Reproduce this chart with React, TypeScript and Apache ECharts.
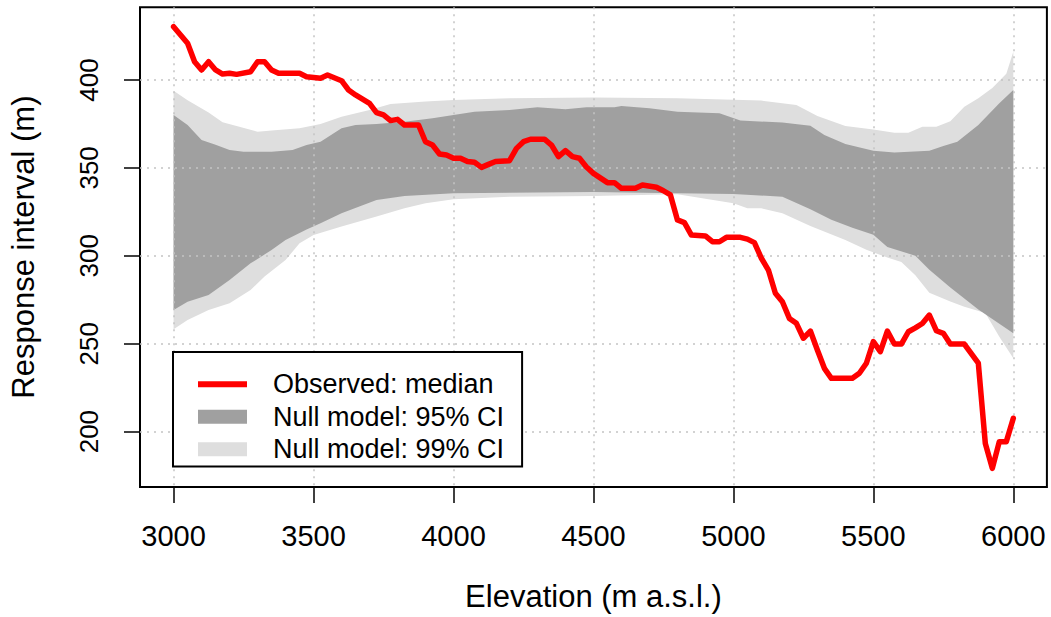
import React, { useEffect, useRef } from 'react';
import * as echarts from 'echarts';

// ---- data ----
const xTickValues = [3000, 3500, 4000, 4500, 5000, 5500, 6000];
const yTickValues = [200, 250, 300, 350, 400];

const observedMedian: [number, number][] = [
  [3000, 430.3], [3050, 420.9], [3075, 410.4], [3100, 405.7], [3125, 410.4], [3150, 405.7],
  [3175, 403.4], [3200, 403.8], [3225, 403.2], [3275, 404.7], [3300, 410.4], [3325, 410.4],
  [3350, 405.7], [3375, 403.8], [3450, 403.8], [3475, 401.9], [3525, 401.0], [3550, 402.8],
  [3600, 399.6], [3625, 394.3], [3650, 391.5], [3700, 386.7], [3725, 381.4], [3750, 380.1],
  [3775, 376.9], [3800, 377.6], [3825, 374.4], [3875, 374.4], [3900, 364.9], [3925, 363.0],
  [3950, 357.9], [3975, 357.3], [4000, 355.5], [4025, 355.5], [4050, 353.6], [4075, 353.2],
  [4100, 350.3], [4125, 352.0], [4150, 353.6], [4200, 354.1], [4225, 361.1], [4250, 364.9],
  [4275, 366.3], [4325, 366.3], [4350, 363.0], [4375, 356.4], [4400, 359.8], [4425, 356.4],
  [4450, 355.5], [4475, 350.5], [4500, 346.9], [4550, 341.6], [4575, 341.6], [4600, 338.4],
  [4650, 338.4], [4675, 340.3], [4725, 339.0], [4750, 337.0], [4775, 334.6], [4800, 320.4],
  [4825, 318.9], [4850, 311.8], [4900, 311.3], [4925, 308.0], [4950, 308.0], [4975, 310.5],
  [5025, 310.5], [5050, 309.5], [5075, 307.5], [5100, 298.6], [5125, 291.9], [5150, 278.7],
  [5175, 273.9], [5200, 264.4], [5225, 261.6], [5250, 253.1], [5275, 257.2], [5300, 246.4],
  [5325, 236.0], [5350, 230.3], [5400, 230.3], [5425, 230.3], [5450, 233.2], [5475, 238.9],
  [5500, 251.2], [5525, 245.5], [5550, 257.2], [5575, 249.8], [5600, 249.8], [5625, 256.8],
  [5650, 259.0], [5675, 261.5], [5700, 266.3], [5725, 257.4], [5750, 255.9], [5775, 249.8],
  [5825, 249.8], [5875, 238.9], [5900, 193.3], [5925, 179.1], [5950, 194.3], [5975, 194.3],
  [6000, 207.6],
];

const ci99Upper: [number, number][] = [
  [3000, 393.9], [3050, 388.5], [3125, 381.5], [3175, 376.0], [3225, 373.8], [3300, 370.6],
  [3350, 371.2], [3450, 372.5], [3525, 375.0], [3600, 379.1], [3700, 382.9], [3775, 386.3],
  [3900, 387.7], [4000, 388.6], [4200, 389.6], [4500, 390.0], [4800, 389.6], [5100, 388.3],
  [5225, 385.8], [5300, 379.5], [5400, 373.8], [5500, 371.9], [5575, 370.0], [5625, 370.0],
  [5675, 373.4], [5725, 373.4], [5775, 376.5], [5825, 384.8], [5875, 389.6], [5925, 395.5],
  [5975, 403.5], [6000, 416.1],
];

const ci95Upper: [number, number][] = [
  [3000, 380.1], [3050, 374.4], [3100, 365.9], [3150, 363.2], [3200, 360.2], [3250, 359.2],
  [3350, 359.2], [3425, 360.2], [3475, 363.0], [3525, 364.9], [3600, 372.5], [3650, 374.4],
  [3725, 375.0], [3825, 376.3], [3925, 378.2], [4000, 380.1], [4075, 382.0], [4200, 382.9],
  [4300, 384.5], [4400, 383.3], [4475, 384.5], [4575, 384.5], [4600, 385.2], [4700, 383.9],
  [4800, 382.0], [4950, 381.1], [5025, 376.9], [5175, 375.8], [5275, 374.0], [5325, 368.7],
  [5400, 363.6], [5500, 359.8], [5575, 358.7], [5700, 359.8], [5750, 362.5], [5800, 364.9],
  [5875, 374.4], [5950, 386.7], [6000, 394.3],
];

const ci95Lower: [number, number][] = [
  [3000, 269.2], [3050, 273.9], [3125, 277.7], [3200, 286.2], [3275, 295.7], [3350, 303.3],
  [3400, 309.0], [3475, 315.0], [3525, 318.5], [3600, 324.2], [3725, 331.7], [3825, 334.0],
  [4000, 335.6], [4500, 336.3], [4800, 335.6], [5000, 335.2], [5175, 333.6], [5275, 326.5],
  [5350, 320.5], [5425, 316.0], [5500, 312.0], [5550, 305.0], [5650, 300.0], [5700, 292.0],
  [5775, 282.0], [5875, 269.5], [6000, 256.0],
];

const ci99Lower: [number, number][] = [
  [3000, 258.2], [3050, 263.5], [3125, 269.2], [3200, 273.0], [3275, 280.5], [3325, 288.2],
  [3400, 297.6], [3450, 307.1], [3500, 311.8], [3600, 316.6], [3725, 322.3], [3825, 327.0],
  [3900, 329.9], [4000, 332.1], [4200, 333.6], [4500, 334.0], [4800, 335.0], [5000, 329.9],
  [5050, 327.0], [5100, 327.0], [5175, 324.2], [5275, 317.0], [5400, 309.0], [5475, 303.5],
  [5550, 299.0], [5600, 296.5], [5650, 289.0], [5700, 279.0], [5775, 274.0], [5825, 271.0],
  [5900, 267.5], [5950, 254.0], [6000, 241.7],
];

const legendNames = ['Observed: median', 'Null model: 95% CI', 'Null model: 99% CI'];

// ---- helpers ----
const FONT = "'Liberation Sans', Arial, Helvetica, sans-serif";
const RED = '#FF0000';
const DARK = '#A0A0A0';
const LIGHT = '#DEDEDE';

function band(upper: [number, number][], lower: [number, number][]) {
  return [...upper, ...lower.slice().reverse()];
}

function polygonRenderer(fill: string) {
  return (params: any, api: any) => {
    if (params.dataIndexInside !== 0) return null;
    const pts: number[][] = [];
    for (let i = 0; i < params.dataInsideLength; i++) {
      pts.push(api.coord([api.value(0, i), api.value(1, i)]));
    }
    return { type: 'polygon', shape: { points: pts }, style: { fill } };
  };
}

const gridLine = { show: true, lineStyle: { color: '#C4C4C4', width: 1.5, type: [2, 5] } };
const plain = (v: number) => String(v);

export default function App() {
  const ref = useRef<HTMLDivElement>(null);
  useEffect(() => {
    if (!ref.current) return;
    const chart = echarts.init(ref.current, undefined, { renderer: 'svg' });
    chart.setOption({
      animation: false,
      backgroundColor: '#ffffff',
      textStyle: { fontFamily: FONT },
      grid: {
        left: 139.7, right: 4.1, top: 7.2, bottom: 130,
        show: true, borderColor: '#000', borderWidth: 2, backgroundColor: 'transparent',
      },
      legend: {
        orient: 'vertical',
        left: 173, top: 352,
        padding: [16, 18, 1, 25],
        itemGap: 0,
        itemWidth: 49, itemHeight: 14,
        backgroundColor: '#ffffff',
        borderColor: '#000', borderWidth: 2,
        borderRadius: 0,
        textStyle: { fontSize: 27, color: '#000', fontFamily: FONT, lineHeight: 32.5, padding: [0, 0, 0, 21] },
        data: [
          { name: legendNames[0], icon: 'path://M0,0H49V6H0Z', itemStyle: { color: RED } },
          { name: legendNames[1], icon: 'rect', itemStyle: { color: DARK } },
          { name: legendNames[2], icon: 'rect', itemStyle: { color: LIGHT } },
        ],
        selectedMode: false,
        z: 10,
      },
      xAxis: {
        type: 'value', min: 2880, max: 6120, z: 2,
        name: 'Elevation (m a.s.l.)', nameLocation: 'middle', nameGap: 94,
        nameTextStyle: { fontSize: 31, color: '#000', fontFamily: FONT },
        axisLine: { show: false },
        axisTick: { show: true, customValues: xTickValues, length: 16, lineStyle: { color: '#000', width: 1.5 } },
        axisLabel: { customValues: xTickValues, formatter: plain, fontSize: 29, color: '#000', margin: 34, fontFamily: FONT, hideOverlap: false },
        splitLine: gridLine,
      },
      yAxis: {
        type: 'value', min: 168.5, max: 441.4, z: 2,
        name: 'Response interval (m)', nameLocation: 'middle', nameGap: 101,
        nameTextStyle: { fontSize: 31, color: '#000', fontFamily: FONT },
        axisLine: { show: false },
        axisTick: { show: true, customValues: yTickValues, length: 16, lineStyle: { color: '#000', width: 1.5 } },
        axisLabel: { customValues: yTickValues, formatter: plain, fontSize: 26, color: '#000', margin: 38, rotate: 90, fontFamily: FONT, hideOverlap: false },
        splitLine: gridLine,
      },
      series: [
        {
          name: legendNames[2], type: 'custom', z: 1, clip: true,
          renderItem: polygonRenderer(LIGHT), itemStyle: { color: LIGHT },
          encode: { x: 0, y: 1 }, data: band(ci99Upper, ci99Lower),
        },
        {
          name: legendNames[1], type: 'custom', z: 1, clip: true,
          renderItem: polygonRenderer(DARK), itemStyle: { color: DARK },
          encode: { x: 0, y: 1 }, data: band(ci95Upper, ci95Lower),
        },
        {
          name: legendNames[0], type: 'line', z: 5, showSymbol: false, symbol: 'none',
          data: observedMedian,
          lineStyle: { color: RED, width: 5.5, cap: 'round', join: 'round' },
          itemStyle: { color: RED },
        },
      ],
    });
    return () => chart.dispose();
  }, []);
  return (
    <div
      ref={ref}
      style={{ position: 'absolute', left: 0, top: 0, width: 1051, height: 617 }}
    />
  );
}
